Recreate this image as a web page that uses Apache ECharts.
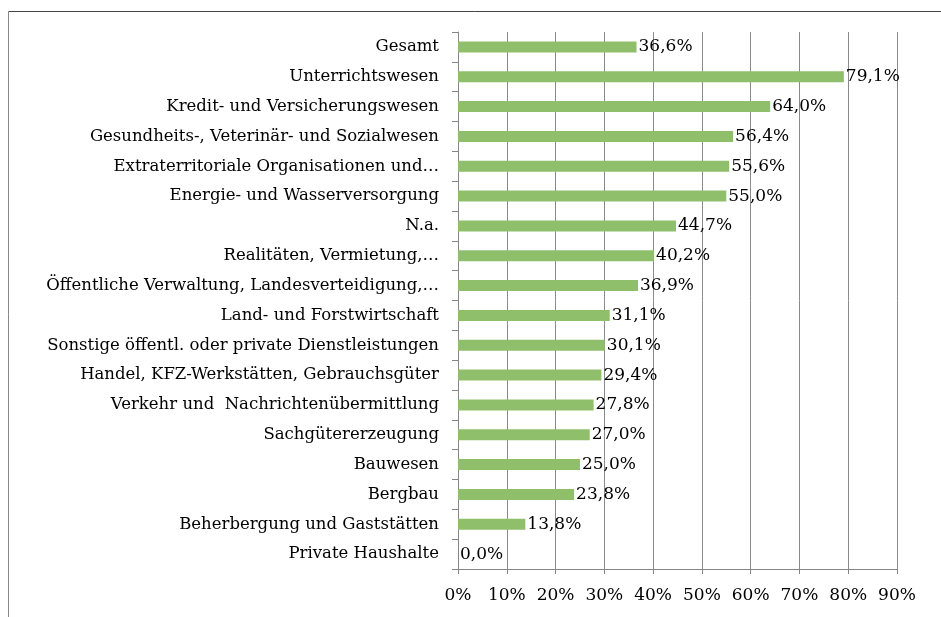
<!DOCTYPE html>
<html>
<head>
<meta charset="utf-8">
<script src="https://cdn.jsdelivr.net/npm/echarts@6/dist/echarts.min.js"></script>
<style>
  html, body { margin: 0; padding: 0; background: #fff; }
  #chart { width: 941px; height: 617px; }
</style>
</head>
<body>
<div id="chart"></div>
<script>
const categories = [
  'Gesamt',
  'Unterrichtswesen',
  'Kredit- und Versicherungswesen',
  'Gesundheits-, Veterinär- und Sozialwesen',
  'Extraterritoriale Organisationen und…',
  'Energie- und Wasserversorgung',
  'N.a.',
  'Realitäten, Vermietung,…',
  'Öffentliche Verwaltung, Landesverteidigung,…',
  'Land- und Forstwirtschaft',
  'Sonstige öffentl. oder private Dienstleistungen',
  'Handel, KFZ-Werkstätten, Gebrauchsgüter',
  'Verkehr und  Nachrichtenübermittlung',
  'Sachgütererzeugung',
  'Bauwesen',
  'Bergbau',
  'Beherbergung und Gaststätten',
  'Private Haushalte'
];
const values = [36.6, 79.1, 64.0, 56.4, 55.6, 55.0, 44.7, 40.2, 36.9, 31.1, 30.1, 29.4, 27.8, 27.0, 25.0, 23.8, 13.8, 0.0];

const font = 'DejaVu Serif';
const chart = echarts.init(document.getElementById('chart'));
const option = {
  animation: false,
  grid: { left: 458, right: 44, top: 32, bottom: 48 },
  graphic: [
    { type: 'line', shape: { x1: 8.5, y1: 11.5, x2: 941, y2: 11.5 }, style: { stroke: '#444', lineWidth: 1 } },
    { type: 'line', shape: { x1: 8.5, y1: 11.5, x2: 8.5, y2: 617 }, style: { stroke: '#888', lineWidth: 1 } }
  ],
  xAxis: {
    type: 'value',
    min: 0,
    max: 90,
    interval: 10,
    axisLine: { show: true, lineStyle: { color: '#868686' } },
    axisTick: { show: true, length: 5, lineStyle: { color: '#868686' } },
    splitLine: { show: true, lineStyle: { color: '#8a8a8a', width: 1 } },
    axisLabel: {
      formatter: v => v + '%',
      color: '#000',
      fontFamily: font,
      fontSize: 17,
      margin: 18
    }
  },
  yAxis: {
    type: 'category',
    data: categories,
    inverse: true,
    axisLine: { show: true, lineStyle: { color: '#868686' } },
    axisTick: { show: true, length: 6, lineStyle: { color: '#868686' } },
    axisLabel: {
      color: '#000',
      fontFamily: font,
      fontSize: 16.5,
      margin: 19
    }
  },
  series: [{
    type: 'bar',
    data: values,
    barWidth: 11,
    itemStyle: { color: '#8fbf6a' },
    label: {
      show: true,
      position: 'right',
      distance: 2,
      color: '#000',
      fontFamily: font,
      fontSize: 17,
      formatter: p => p.value.toFixed(1).replace('.', ',') + '%'
    }
  }]
};
chart.setOption(option);
</script>
</body>
</html>
